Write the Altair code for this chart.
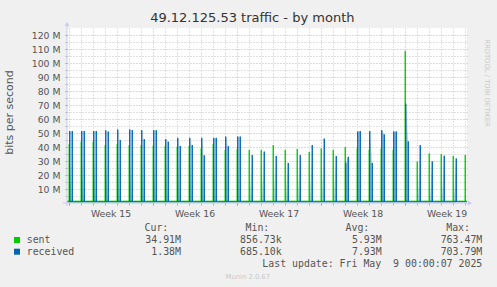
import altair as alt
import pandas as pd

# ---------------- data ----------------
# one traffic burst per day (day 0 = Sun Apr 6 2025), values in Mbit/s
day_index = list(range(34))
sent_peak = [42.0, 43.8, 43.8, 41.4, 42.0, 41.4, 41.4, 41.0, 40.7, 40.2,
             40.7, 39.0, 42.0, 38.0, 38.6, 37.9, 37.9, 41.4, 37.9, 38.6,
             36.5, 39.0, 37.9, 39.8, 39.0, 38.0, 39.0, 38.0, 108.6, 29.5,
             35.4, 34.8, 33.5, 34.3]
recv_peak1 = [51.4, 51.4, 51.4, 51.9, 52.5, 52.5, 52.0, 52.0, 45.6, 46.5,
              46.5, 46.5, 46.5, 47.4, 47.4, 0, 0, 0, 0, 0,
              0, 0, 0, 28.6, 51.0, 51.4, 52.0, 51.0, 71.0, 0,
              0, 0, 0, 0]
recv_peak2 = [51.4, 51.4, 51.4, 51.0, 44.9, 52.0, 45.6, 52.0, 43.8, 40.7,
              41.4, 34.0, 46.5, 40.5, 47.4, 34.3, 36.7, 33.6, 28.6, 34.3,
              41.4, 46.0, 33.6, 33.0, 51.4, 28.6, 49.0, 51.0, 44.0, 41.4,
              29.8, 33.8, 31.8, 0]
sent_base = 1.3
recv_base = 0.9
# hour of day of each burst
sent_hour = 0.5
recv1_hour = 1.5
recv2_hour = 6.5

x_start, x_end = -4, 796          # hours
day_ticks = list(range(0, 793, 24))
week_mid = [84, 252, 420, 588, 756]
week_labels = ["Week 15", "Week 16", "Week 17", "Week 18", "Week 19"]
y_ticks = list(range(5, 121, 5))

legend_names = ["sent", "received"]
legend_colors = ["#00CC00", "#0066B3"]
cur_vals = ["34.91M", "1.38M"]
min_vals = ["856.73k", "685.10k"]
avg_vals = ["5.93M", "7.93M"]
max_vals = ["763.47M", "703.79M"]
last_update = "Last update: Fri May \u00a09 00:00:07 2025"

# ---------------- tables ----------------
sent_line, recv_line, sent_area, recv_area = [], [], [], []
sent_line.append((x_start, sent_base))
recv_line.append((x_start, recv_base))
for d, g, b1, b2 in zip(day_index, sent_peak, recv_peak1, recv_peak2):
    h = 24 * d
    sent_line += [(h + sent_hour - 0.3, sent_base), (h + sent_hour, g), (h + sent_hour + 0.3, sent_base)]
    sent_area += [(d, h + sent_hour - 0.05, sent_base), (d, h + sent_hour, g), (d, h + sent_hour + 4.5, sent_base)]
    if b1 > 0:
        recv_line += [(h + recv1_hour - 0.3, recv_base), (h + recv1_hour, b1), (h + recv1_hour + 0.3, recv_base)]
    if b2 > 0:
        recv_line += [(h + recv2_hour - 0.3, recv_base), (h + recv2_hour, b2), (h + recv2_hour + 0.3, recv_base)]
        recv_area += [(d, h + recv1_hour - 0.5, recv_base),
                      (d, h + recv1_hour, b1 if b1 > 0 else recv_base),
                      (d, h + recv2_hour, b2),
                      (d, h + recv2_hour + 0.1, recv_base)]
sent_line.append((x_end, sent_base))
recv_line.append((x_end, recv_base))

df_sl = pd.DataFrame(sent_line, columns=["t", "v"])
df_rl = pd.DataFrame(recv_line, columns=["t", "v"])
df_sa = pd.DataFrame(sent_area, columns=["day", "t", "v"])
df_ra = pd.DataFrame(recv_area, columns=["day", "t", "v"])
df_week = pd.DataFrame({"t": week_mid, "label": week_labels})

MAJOR = "#e6a3a3"
MINOR = "#c4c4c4"
AXIS = "#c8c8f0"

xscale = alt.Scale(domain=[x_start, x_end], nice=False, zero=False)
yscale = alt.Scale(domain=[0, 125], nice=False, zero=True)
xaxis = alt.Axis(values=day_ticks, labels=False, title=None, domain=False,
                 grid=True, gridDash=[1, 2],
                 gridColor={"condition": {"test": "datum.value % 168 === 0", "value": MAJOR}, "value": MINOR},
                 tickColor={"condition": {"test": "datum.value % 168 === 0", "value": "#d08080"}, "value": "#b0b0b0"},
                 tickSize=2)
yaxis = alt.Axis(values=y_ticks, title=None, domain=False, grid=True, gridDash=[1, 2],
                 gridColor={"condition": {"test": "datum.value % 10 === 0", "value": MAJOR}, "value": MINOR},
                 tickColor={"condition": {"test": "datum.value % 10 === 0", "value": "#d08080"}, "value": "#b0b0b0"},
                 tickSize=2, labelPadding=5, labelOverlap=False,
                 labelExpr="datum.value % 10 === 0 ? datum.value + ' M' : ''",
                 labelFont="DejaVu Sans", labelFontSize=9.3, labelColor="#555555")

X = alt.X("t:Q", scale=xscale, axis=xaxis)
Y = alt.Y("v:Q", scale=yscale, axis=yaxis)

green_fade = alt.Gradient(gradient="linear", x1=0, x2=1, y1=0, y2=0,
                          stops=[alt.GradientStop(offset=0, color="rgba(0,204,0,0.5)"),
                                 alt.GradientStop(offset=1, color="rgba(0,204,0,0.0)")])
blue_fade = alt.Gradient(gradient="linear", x1=0, x2=1, y1=0, y2=0,
                         stops=[alt.GradientStop(offset=0, color="rgba(0,102,179,0.03)"),
                                alt.GradientStop(offset=1, color="rgba(0,102,179,0.3)")])

sa = alt.Chart(df_sa).mark_area(color=green_fade).encode(x=X, y=Y, detail="day:N")
sl = alt.Chart(df_sl).mark_line(color=legend_colors[0], strokeWidth=1).encode(x=X, y=Y)
ra = alt.Chart(df_ra).mark_area(color=blue_fade).encode(x=X, y=Y, detail="day:N")
rl = alt.Chart(df_rl).mark_line(color=legend_colors[1], strokeWidth=1).encode(x=X, y=Y)

weeks = alt.Chart(df_week).mark_text(font="DejaVu Sans", fontSize=9.3, color="#555555",
                                     baseline="alphabetic", align="center").encode(
    x=alt.X("t:Q", scale=xscale, axis=xaxis), y=alt.value(188.7), text="label:N")

one = pd.DataFrame({"a": [0]})


def txt(s, x, y, **kw):
    return alt.Chart(one).mark_text(text=s, **kw).encode(x=alt.value(x), y=alt.value(y))


mono = dict(font="DejaVu Sans Mono", fontSize=9.9, color="#555555", baseline="alphabetic")
layers = [sa, sl, ra, rl, weeks]

# axis lines + arrows
layers.append(alt.Chart(one).mark_rule(color=AXIS, strokeWidth=1).encode(
    x=alt.value(0), y=alt.value(-3), y2=alt.value(178)))
layers.append(alt.Chart(one).mark_rule(color=AXIS, strokeWidth=1).encode(
    x=alt.value(-4), x2=alt.value(401), y=alt.value(175)))
layers.append(alt.Chart(one).mark_point(shape="triangle-up", filled=True, size=22, color=AXIS, opacity=1).encode(
    x=alt.value(0), y=alt.value(-4)))
layers.append(alt.Chart(one).mark_point(shape="triangle-right", filled=True, size=22, color=AXIS, opacity=1).encode(
    x=alt.value(403), y=alt.value(175)))

# titles
layers.append(txt("49.12.125.53 traffic - by month", 185.3, -5.7, font="DejaVu Sans", fontSize=13,
                  color="#333333", align="center", baseline="alphabetic"))
layers.append(txt("bits per second", -57, 84.5, font="DejaVu Sans", fontSize=11, color="#555555",
                  align="center", baseline="middle", angle=270))
layers.append(txt("RRDTOOL / TOBI OETIKER", 420, 55, font="DejaVu Sans", fontSize=6.8, color="#c8c8c8",
                  align="center", baseline="middle", angle=90))

# legend
for s, xr in zip(["Cur:", "Min:", "Avg:", "Max:"], [101.3, 202.3, 302.3, 403]):
    layers.append(txt(s, xr, 202.7, align="right", **mono))
for i, (name, col) in enumerate(zip(legend_names, legend_colors)):
    yb = [215.3, 227.0][i]
    layers.append(alt.Chart(one).mark_square(size=36, color=col, opacity=1).encode(
        x=alt.value(-50), y=alt.value(yb - 3.3)))
    layers.append(txt(name, -40.3, yb, align="left", **mono))
    for vals, xr in zip([cur_vals, min_vals, avg_vals, max_vals], [114, 214.7, 314.7, 415.3]):
        layers.append(txt(vals[i], xr, yb, align="right", **mono))
layers.append(txt(last_update, 415.3, 238.7, align="right", **mono))
layers.append(txt("Munin 2.0.67", 180.8, 251, font="DejaVu Sans", fontSize=6.8, color="#c8c8c8",
                  align="center", baseline="alphabetic"))

chart = alt.layer(*layers).properties(
    width=400, height=175, background="#F0F0F0",
    padding={"left": 67, "top": 28, "right": 30, "bottom": 84},
    autosize=alt.AutoSizeParams(type="none"),
).configure_view(fill="white", stroke=None)

chart.save("out.html", embed_options={"renderer": "svg", "actions": False})
